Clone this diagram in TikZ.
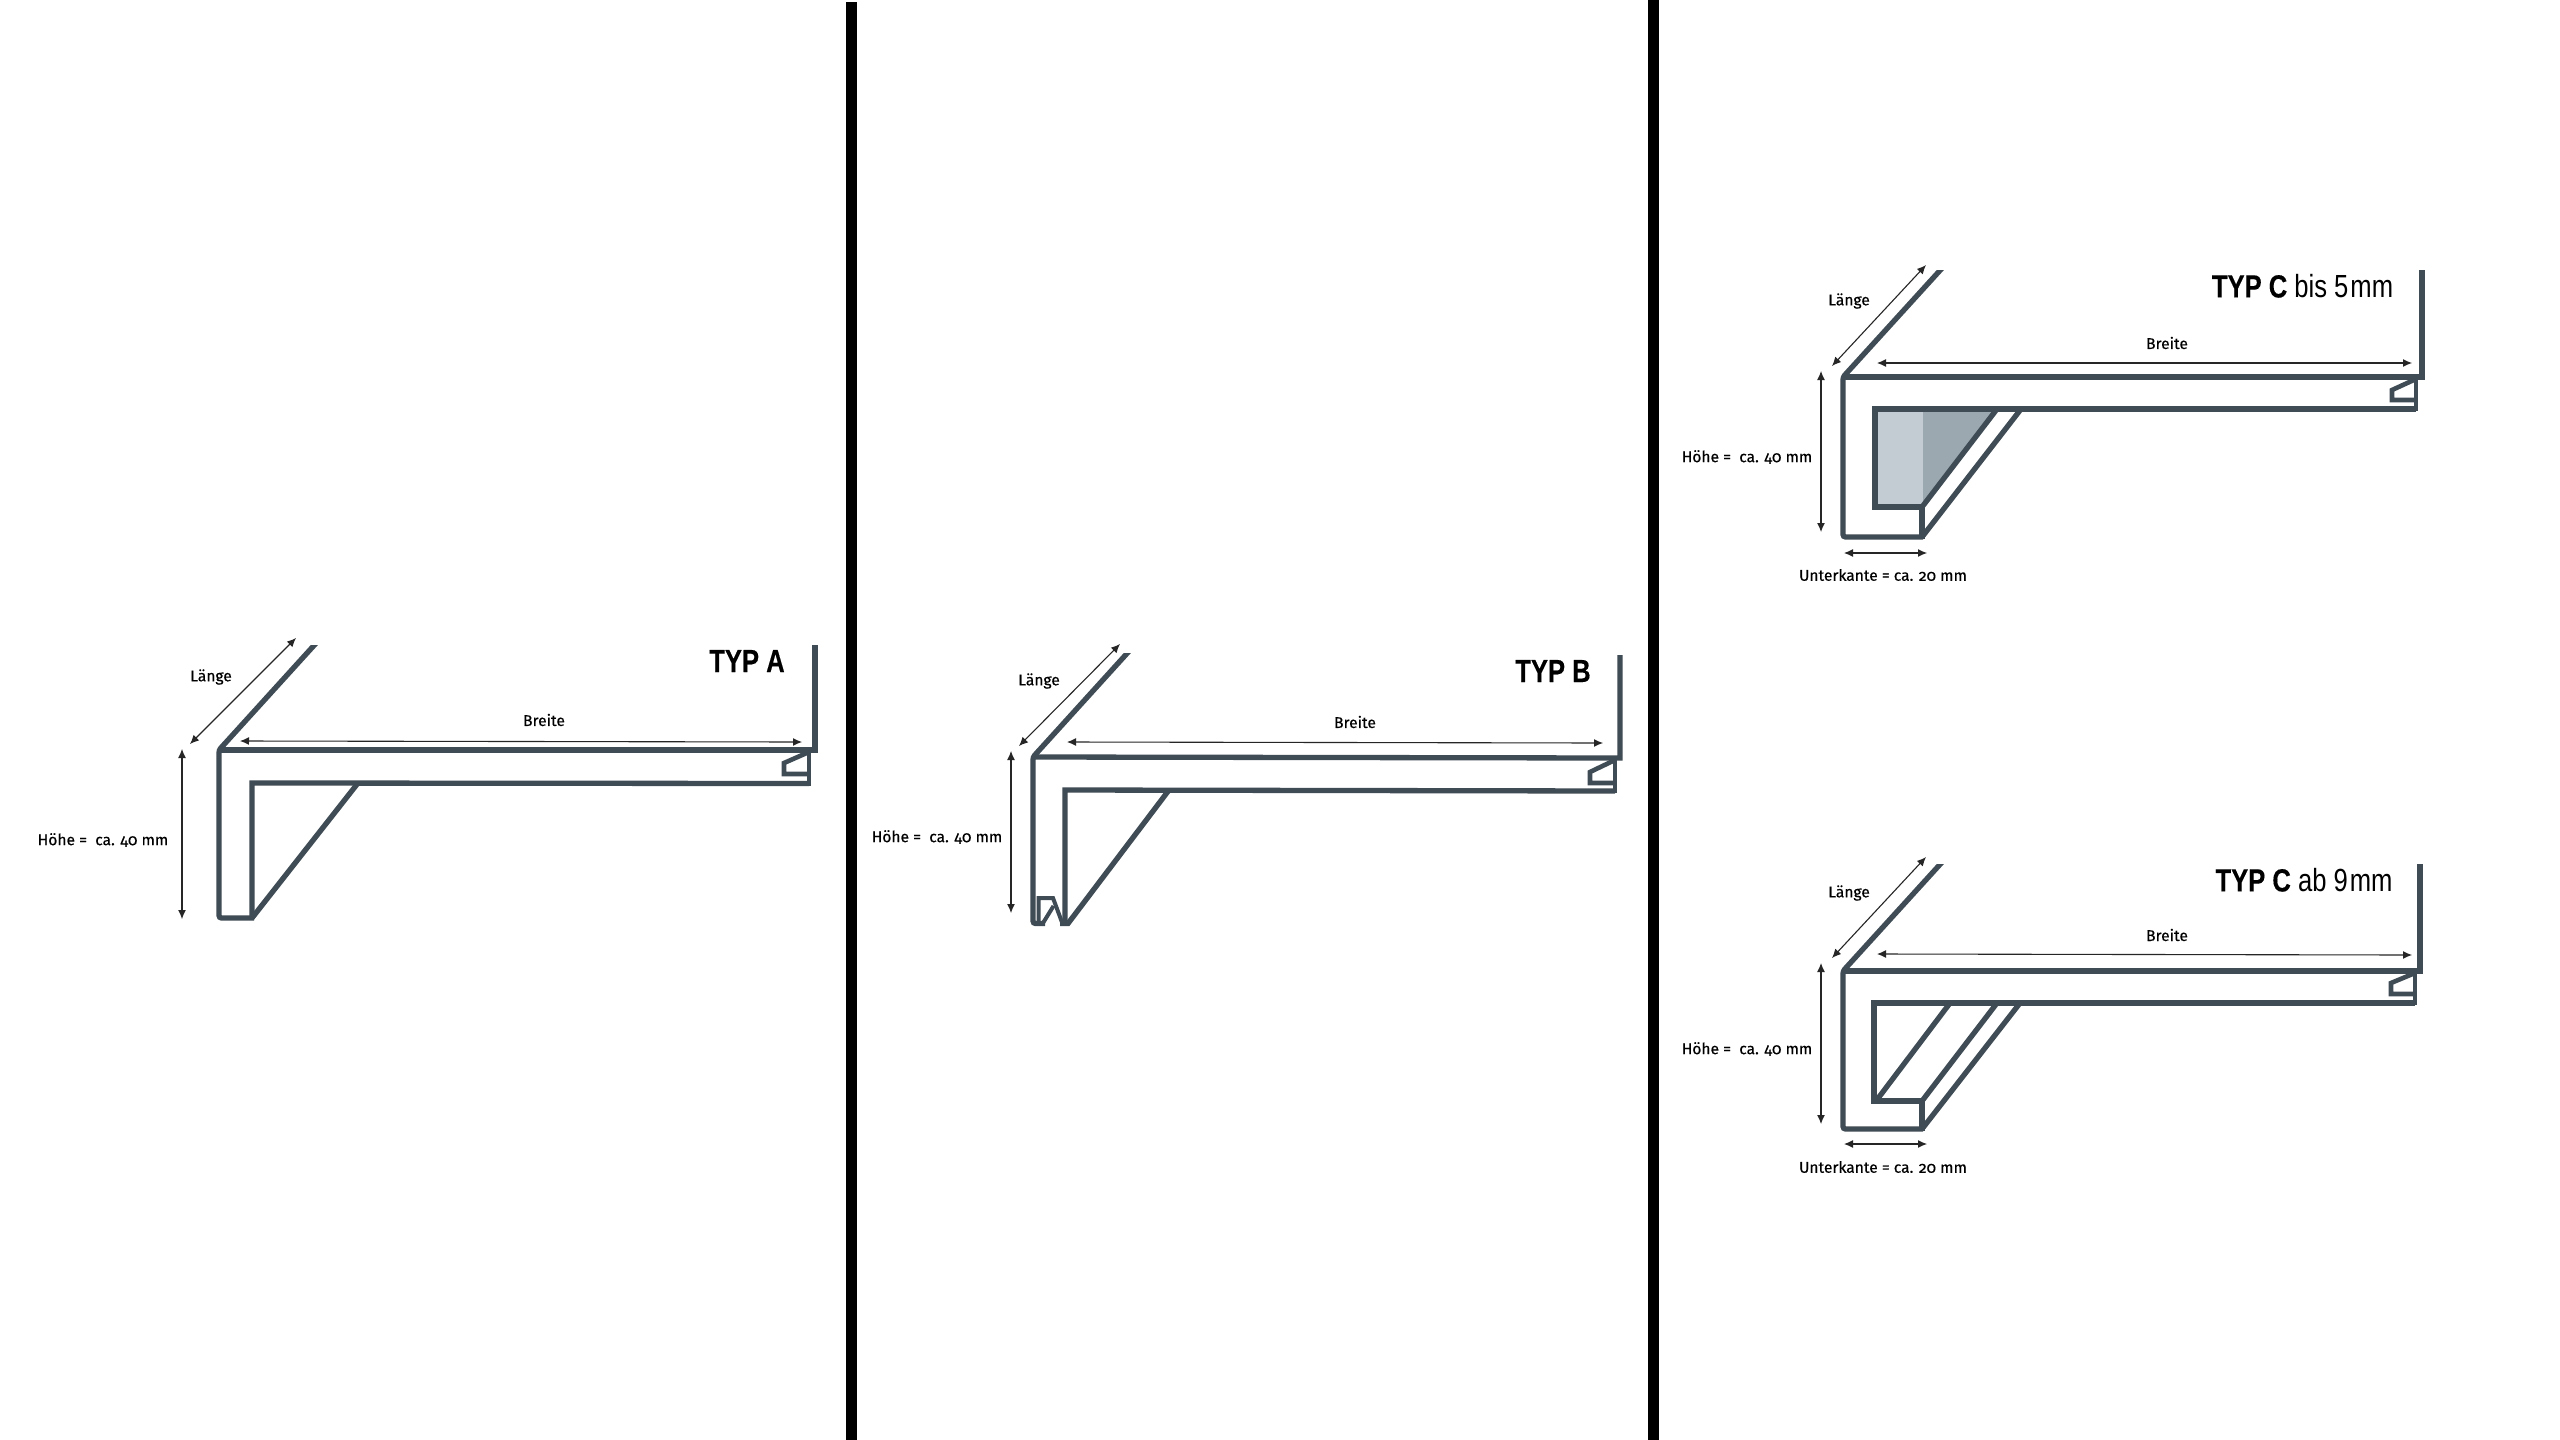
\documentclass[tikz,border=0pt]{standalone}
\usepackage{fontspec}
\usetikzlibrary{arrows.meta}
\newfontfamily\lblfont[Numbers=OldStyle,FakeBold=0.35]{Fira Sans}
\newfontfamily\ttlbold[FakeStretch=0.8,FakeBold=0.3]{Liberation Sans Bold}
\newfontfamily\ttlreg[FakeStretch=0.8]{Liberation Sans}
\definecolor{prof}{HTML}{3F4C55}
\definecolor{lightfill}{HTML}{C3CBD3}
\definecolor{darkfill}{HTML}{9CA8B0}
\tikzset{
  x=1pt,y=-1pt,
  profile/.style={draw=prof,line width=5.3pt,line join=miter,miter limit=6},
  thinprof/.style={draw=prof,line width=4.6pt,line join=miter,miter limit=6},
  dim/.style={draw=black!85,line width=1.1pt,{Latex[length=9pt,width=8pt]}-{Latex[length=9pt,width=8pt]}},
  lbl/.style={font=\lblfont\fontsize{15.6}{17}\selectfont,text=black,inner sep=0pt,anchor=center},
  ttl/.style={font=\fontsize{32}{35}\selectfont,text=black,inner sep=0pt,anchor=center},
  bar/.style={fill=black,draw=none}
}
\begin{document}
\begin{tikzpicture}
\useasboundingbox (0,0) rectangle (2560,1440);
\fill[white] (0,0) rectangle (2560,1440);
% separators
\fill[bar] (846,2) rectangle (857,1440);
\fill[bar] (1648,0) rectangle (1659,1440);

% ---------- TYP A ----------
\begin{scope}
\clip (0,645) rectangle (2560,1000);
\draw[profile,rounded corners=2.5pt] (318,641) -- (219,750) -- (219,918) -- (254,918);
\draw[profile] (815,645) -- (815,750) -- (219,750);
\end{scope}
\draw[profile] (809,783.5) -- (252,783) -- (252,918);
\draw[profile] (252,918) -- (358,783);
\draw[thinprof] (809,752) -- (809,785.5);
\draw[thinprof] (809,752) -- (784,763) -- (784,774) -- (807,774);
\coordinate (a1) at (190,744); \coordinate (a2) at (296,638);
\coordinate (a3) at (240,741); \coordinate (a4) at (802,742);
\coordinate (a5) at (182,749); \coordinate (a6) at (182,919);
\draw[dim] (a1) -- (a2);
\draw[dim] (a3) -- (a4);
\draw[dim] (a5) -- (a6);
\node[lbl] (aL) at (211,677) {Länge};
\node[lbl] (aB) at (544,720) {Breite};
\node[lbl] (aH) at (103,840) {Höhe =\ \ ca. 40 mm};
\node[ttl] (aT) at (747,661) {\ttlbold TYP A};

% ---------- TYP B ----------
\begin{scope}
\clip (0,653) rectangle (2560,1000);
\draw[profile,rounded corners=2.5pt] (1131,649) -- (1033,757) -- (1033,923.5) -- (1045,923.5);
\draw[profile] (1620,655) -- (1620,758) -- (1033,757);
\end{scope}
\draw[profile] (1615,791) -- (1065,790) -- (1065,924);
\draw[profile] (1060,923.5) -- (1068,923.5) -- (1169,790);
\draw[thinprof] (1615,760) -- (1615,793);
\draw[thinprof] (1615,760) -- (1590,772) -- (1590,783) -- (1613,783);
\draw[draw=prof,line width=4pt,line join=miter] (1038.5,924) -- (1038.5,898) -- (1053,898) -- (1063,925);
\draw[draw=prof,line width=4pt] (1043,923) -- (1053.5,906);
\coordinate (b1) at (1019,746); \coordinate (b2) at (1120,644);
\coordinate (b3) at (1067,742); \coordinate (b4) at (1603,743);
\coordinate (b5) at (1011,751); \coordinate (b6) at (1011,913);
\draw[dim] (b1) -- (b2);
\draw[dim] (b3) -- (b4);
\draw[dim] (b5) -- (b6);
\node[lbl] (bL) at (1039,681) {Länge};
\node[lbl] (bB) at (1355,722) {Breite};
\node[lbl] (bH) at (937,837) {Höhe =\ \ ca. 40 mm};
\node[ttl] (bT) at (1553,671) {\ttlbold TYP B};

% ---------- TYP C bis 5 mm ----------
\fill[lightfill] (1875,409) rectangle (1923,507);
\fill[darkfill] (1923,409) -- (1996,409) -- (1923,507) -- cycle;
\begin{scope}
\clip (0,270) rectangle (2560,700);
\draw[profile,rounded corners=2.5pt] (1944,266) -- (1843,377) -- (1843,537) -- (1923,537);
\draw[profile] (2422,270) -- (2422,377) -- (1843,377);
\end{scope}
\draw[profile] (2416,409) -- (1875,409) -- (1875,507) -- (1922,507);
\draw[profile] (1922,505) -- (1922,539);
\draw[profile] (1922,507) -- (1997,409);
\draw[profile] (1922,537) -- (2021,409);
\draw[thinprof] (2416,379) -- (2416,411);
\draw[thinprof] (2416,379) -- (2392,390) -- (2392,400) -- (2414,400);
\coordinate (c1) at (1832,366); \coordinate (c2) at (1926,265);
\coordinate (c3) at (1877,363); \coordinate (c4) at (2412,363);
\coordinate (c5) at (1821,371); \coordinate (c6) at (1821,532);
\coordinate (c7) at (1844,553); \coordinate (c8) at (1927,553);
\draw[dim] (c1) -- (c2);
\draw[dim] (c3) -- (c4);
\draw[dim] (c5) -- (c6);
\draw[dim] (c7) -- (c8);
\node[lbl] (cL) at (1849,301) {Länge};
\node[lbl] (cB) at (2167,343) {Breite};
\node[lbl] (cH) at (1747,457) {Höhe =\ \ ca. 40 mm};
\node[lbl] (cU) at (1883,575) {Unterkante = ca. 20 mm};
\node[ttl] (cT) at (2302.5,286) {\ttlbold TYP C \ttlreg bis 5\kern2pt mm};

% ---------- TYP C ab 9 mm ----------
\begin{scope}
\clip (0,864) rectangle (2560,1300);
\draw[profile,rounded corners=2.5pt] (1944,860) -- (1843,971) -- (1843,1129) -- (1923,1129);
\draw[profile] (2420,864) -- (2420,971) -- (1843,971);
\end{scope}
\draw[profile] (2415,1003) -- (1874,1003) -- (1874,1101) -- (1922,1101);
\draw[profile] (1922,1099) -- (1922,1131);
\draw[profile] (1876,1101) -- (1950,1003);
\draw[profile] (1922,1101) -- (1997,1003);
\draw[profile] (1922,1129) -- (2020,1003);
\draw[thinprof] (2415,973) -- (2415,1005);
\draw[thinprof] (2415,973) -- (2391,983) -- (2391,994) -- (2413,994);
\coordinate (d1) at (1832,958); \coordinate (d2) at (1926,857);
\coordinate (d3) at (1877,954); \coordinate (d4) at (2412,955);
\coordinate (d5) at (1821,963); \coordinate (d6) at (1821,1124);
\coordinate (d7) at (1844,1144); \coordinate (d8) at (1927,1144);
\draw[dim] (d1) -- (d2);
\draw[dim] (d3) -- (d4);
\draw[dim] (d5) -- (d6);
\draw[dim] (d7) -- (d8);
\node[lbl] (dL) at (1849,893) {Länge};
\node[lbl] (dB) at (2167,935) {Breite};
\node[lbl] (dH) at (1747,1049) {Höhe =\ \ ca. 40 mm};
\node[lbl] (dU) at (1883,1167) {Unterkante = ca. 20 mm};
\node[ttl] (dT) at (2304,880) {\ttlbold TYP C \ttlreg ab 9\kern2pt mm};
\end{tikzpicture}
\end{document}
